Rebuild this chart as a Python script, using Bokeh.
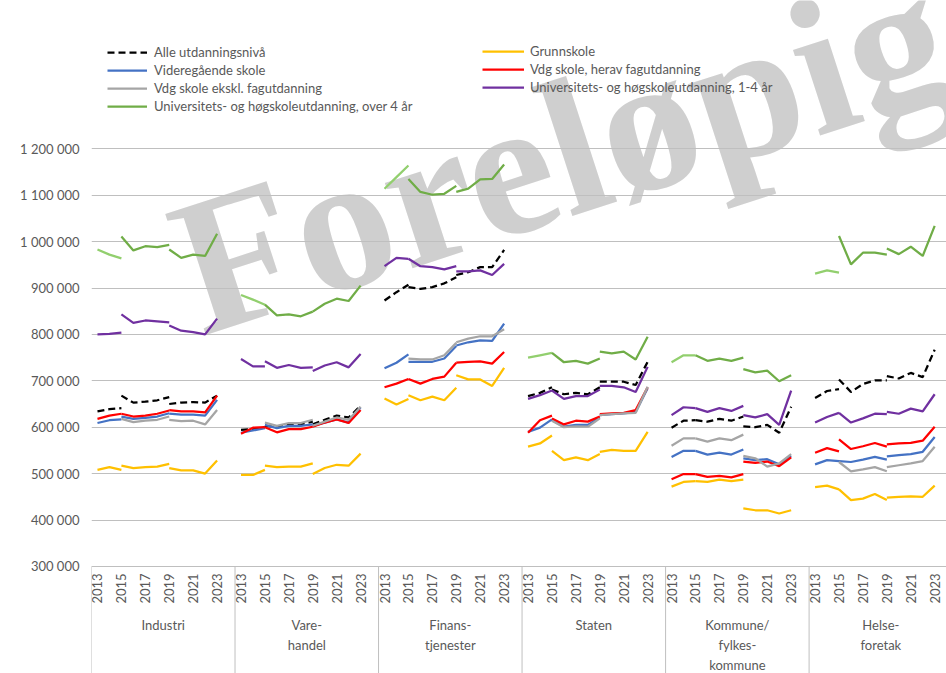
import math
from bokeh.plotting import figure
from bokeh.models import Range1d, FixedTicker, Legend, LegendItem, Label, ColumnDataSource
from bokeh.embed import file_html
from bokeh.resources import INLINE
from bokeh.core.properties import value

# ---------------- data ----------------
sector_lines = [["Industri"], ["Vare-", "handel"], ["Finans-", "tjenester"], ["Staten"],
                ["Kommune/", "fylkes-", "kommune"], ["Helse-", "foretak"]]
year_ticks = [2013, 2015, 2017, 2019, 2021, 2023]
y_ticks = [300000, 400000, 500000, 600000, 700000, 800000, 900000, 1000000, 1100000, 1200000]
seg_years = [[2013, 2014, 2015], [2015, 2016, 2017, 2018, 2019], [2019, 2020, 2021, 2022, 2023]]

# values in 1000 NOK; per sector: (2013-2015, 2015-2019, 2019-2023)
alle = [
    ([634, 639, 641], [668, 653, 655, 658, 665], [650, 653, 654, 653, 668]),
    ([594, 596, 600], [603, 601, 605, 606, 612], [606, 616, 625, 621, 646]),
    ([873, 891, 907], [902, 898, 902, 910, 923], [928, 934, 945, 945, 982]),
    ([667, 674, 686], [681, 671, 674, 671, 686], [698, 698, 698, 691, 741]),
    ([599, 614, 615], [615, 612, 618, 614, 623], [602, 600, 605, 588, 644]),
    ([663, 678, 682], [703, 676, 693, 701, 701], [710, 705, 717, 708, 767]),
]
grunnskole = [
    ([508, 514, 508], [517, 512, 514, 515, 521], [512, 507, 507, 500, 528]),
    ([497, 497, 508], [517, 514, 515, 515, 522], [499, 512, 519, 517, 543]),
    ([662, 649, 661], [669, 658, 666, 658, 685], [712, 703, 703, 689, 728]),
    ([558, 565, 582], [549, 529, 535, 529, 542], [547, 551, 549, 549, 590]),
    ([472, 482, 484], [484, 482, 487, 484, 487], [425, 421, 421, 414, 421]),
    ([471, 474, 466], [466, 443, 446, 456, 443], [448, 450, 451, 450, 474]),
]
vgs = [
    ([609, 615, 617], [623, 618, 620, 623, 630], [629, 627, 627, 625, 659]),
    ([588, 593, 598], [605, 598, 603, 603, 606], [603, 610, 617, 610, 643]),
    ([727, 739, 757], [741, 741, 741, 748, 775], [776, 783, 787, 786, 823]),
    ([590, 599, 617], [615, 601, 605, 605, 621], [626, 628, 630, 633, 684]),
    ([536, 549, 549], [549, 541, 545, 541, 552], [533, 529, 531, 520, 538]),
    ([520, 529, 527], [527, 525, 530, 536, 530], [537, 540, 542, 547, 579]),
]
fag = [
    ([618, 625, 629], [629, 623, 625, 629, 636], [637, 634, 634, 632, 668]),
    ([586, 599, 600], [600, 589, 596, 596, 601], [601, 610, 617, 609, 637]),
    ([686, 694, 704], [704, 694, 704, 709, 739], [739, 741, 742, 737, 762]),
    ([588, 615, 625], [619, 606, 614, 612, 623], [628, 630, 631, 637, 686]),
    ([488, 499, 499], [499, 493, 495, 492, 499], [526, 523, 526, 516, 535]),
    ([545, 555, 548], [574, 553, 559, 566, 558], [563, 565, 566, 571, 601]),
]
ekskl = [
    (None, [618, 611, 614, 616, 623], [616, 613, 614, 606, 637]),
    (None, [610, 603, 609, 609, 616], [603, 612, 621, 616, 644]),
    (None, [748, 746, 746, 755, 782], [783, 791, 796, 796, 811]),
    (None, [614, 600, 602, 601, 619], [626, 628, 630, 631, 687]),
    ([560, 576, 576], [576, 569, 576, 572, 584], [538, 533, 515, 522, 542]),
    (None, [525, 505, 509, 514, 505], [514, 518, 522, 527, 558]),
]
uni14 = [
    ([800, 801, 804], [843, 825, 830, 828, 826], [819, 808, 805, 800, 834]),
    ([747, 731, 731], [742, 728, 734, 728, 729], [721, 733, 740, 729, 758]),
    ([947, 965, 963], [963, 947, 945, 940, 947], [936, 936, 938, 928, 952]),
    ([661, 669, 679], [679, 661, 667, 667, 681], [689, 689, 686, 676, 730]),
    ([626, 643, 641], [641, 633, 641, 635, 646], [626, 621, 628, 605, 679]),
    ([610, 622, 631], [631, 610, 619, 629, 628], [633, 629, 640, 634, 671]),
]
uni4 = [
    ([983, 972, 964], [1011, 981, 990, 988, 993], [983, 965, 972, 969, 1017]),
    ([885, 875, 864], [864, 841, 843, 839, 849], [849, 866, 877, 872, 905]),
    ([1114, 1139, 1164], [1135, 1107, 1101, 1103, 1120], [1107, 1114, 1134, 1135, 1166]),
    ([750, 755, 760], [760, 740, 743, 737, 748], [763, 759, 763, 746, 795]),
    ([740, 755, 755], [755, 743, 748, 743, 750], [725, 718, 722, 699, 712]),
    ([931, 938, 933], [1012, 951, 976, 976, 972], [985, 973, 989, 969, 1034]),
]

series = [
    ("Alle utdanningsnivå", alle, "#000000", "#000000", "7 4"),
    ("Grunnskole", grunnskole, "#FFC000", "#FFC000", "solid"),
    ("Videregående skole", vgs, "#4472C4", "#4472C4", "solid"),
    ("Vdg skole, herav fagutdanning", fag, "#FF0000", "#FF0000", "solid"),
    ("Vdg skole ekskl. fagutdanning", ekskl, "#A5A5A5", "#A5A5A5", "solid"),
    ("Universitets- og høgskoleutdanning, 1-4 år", uni14, "#7030A0", "#7030A0", "solid"),
    ("Universitets- og høgskoleutdanning, over 4 år", uni4, "#70AD47", "#92CF6E", "solid"),
]

# ---------------- layout ----------------
W, H = 946, 673
LEFT = 91
SLOT_PX = 11.96
SLOTS = 12
PX100K = 46.4
TOP_1200 = 148.3  # px from figure top to 1 200 000 line
U = 100000 / PX100K  # data units per pixel
y_end = 1200000 + TOP_1200 * U
y_start = 1200000 - (H - TOP_1200) * U
x_end = (W - LEFT) / SLOT_PX

p = figure(width=W, height=H, x_range=Range1d(0, x_end), y_range=Range1d(y_start, y_end),
           output_backend="svg", toolbar_location=None, x_axis_location=None,
           min_border_left=LEFT, min_border_right=0, min_border_top=0, min_border_bottom=0)
p.outline_line_color = None
p.background_fill_color = "white"
p.border_fill_color = "white"

ticker = FixedTicker(ticks=y_ticks)
p.yaxis.ticker = ticker
p.yaxis.major_label_overrides = {v: f"{v:,}".replace(",", " ") for v in y_ticks}
p.yaxis.axis_line_color = None
p.yaxis.major_tick_line_color = None
p.yaxis.minor_tick_line_color = None
p.yaxis.major_label_standoff = 6
p.yaxis.major_label_text_font = "Lato"
p.yaxis.major_label_text_font_size = "13px"
p.yaxis.major_label_text_color = "#595959"
p.ygrid.ticker = ticker
p.ygrid.grid_line_color = "#BFBFBF"
p.ygrid.grid_line_width = 1
for g in p.xgrid:
    g.visible = False

FONT = value("Lato")
TXT = "#595959"

# watermark (behind the lines)
wm = Label(x=(560 - LEFT) / SLOT_PX, y=1200000 - (150 - TOP_1200) * U,
           text="Foreløpig", angle=math.radians(18), text_align="center", text_baseline="middle",
           text_font="Liberation Serif", text_font_style="bold", text_font_size="195px",
           text_color="#BFBFBF", text_alpha=0.75, level="underlay")
p.add_layout(wm)

# category separators below the axis
sep_x = [s * SLOTS for s in range(len(sector_lines))]
p.segment(x0=sep_x, y0=[y_ticks[0]] * len(sep_x), x1=sep_x, y1=[y_start] * len(sep_x),
          line_color="#BFBFBF", line_width=1)

# year labels
yl_x, yl_t = [], []
for s in range(len(sector_lines)):
    for yr in year_ticks:
        yl_x.append(s * SLOTS + (yr - 2013) + 0.5)
        yl_t.append(str(yr))
p.text(x=yl_x, y=[y_ticks[0] - 7 * U] * len(yl_x), text=yl_t, angle=math.pi / 2,
       text_align="right", text_baseline="middle", text_font=FONT, text_font_size="13px",
       text_color=TXT)

# sector labels
sl_x, sl_y, sl_t = [], [], []
for s, lines in enumerate(sector_lines):
    for j, t in enumerate(lines):
        sl_x.append(s * SLOTS + SLOTS / 2)
        sl_y.append(y_ticks[0] - (59 + 20 * j) * U)
        sl_t.append(t)
p.text(x=sl_x, y=sl_y, text=sl_t, text_align="center", text_baseline="middle",
       text_font=FONT, text_font_size="13px", text_color=TXT)

# data lines
renderers = {}
for name, data, color, color_a, dash in series:
    xs, ys, cs = [], [], []
    for s, segs in enumerate(data):
        for k, seg in enumerate(segs):
            if seg is None:
                continue
            xs.append([s * SLOTS + (yr - 2013) + 0.5 for yr in seg_years[k]])
            ys.append([v * 1000 for v in seg])
            cs.append(color_a if k == 0 else color)
    src = ColumnDataSource(dict(xs=xs, ys=ys, color=cs))
    r = p.multi_line(xs="xs", ys="ys", line_color="color", line_width=2.25,
                     line_dash=dash, source=src)
    renderers[name] = r

def make_legend(names, loc, gw, standoff):
    lg = Legend(items=[LegendItem(label=n, renderers=[renderers[n]], index=len(renderers[n].data_source.data["xs"]) - 1) for n in names],
                location=loc, orientation="vertical", padding=0, margin=0, spacing=0,
                glyph_width=gw, glyph_height=18, label_height=18, label_standoff=standoff,
                background_fill_alpha=0, border_line_color=None,
                label_text_font="Lato", label_text_font_size="13px", label_text_color=TXT)
    p.add_layout(lg, "center")

make_legend(["Alle utdanningsnivå", "Videregående skole", "Vdg skole ekskl. fagutdanning",
             "Universitets- og høgskoleutdanning, over 4 år"], (16, 558), 40, 7)
make_legend(["Grunnskole", "Vdg skole, herav fagutdanning",
             "Universitets- og høgskoleutdanning, 1-4 år"], (391, 577), 42, 6)

open("out.html", "w").write(file_html(p, INLINE))
